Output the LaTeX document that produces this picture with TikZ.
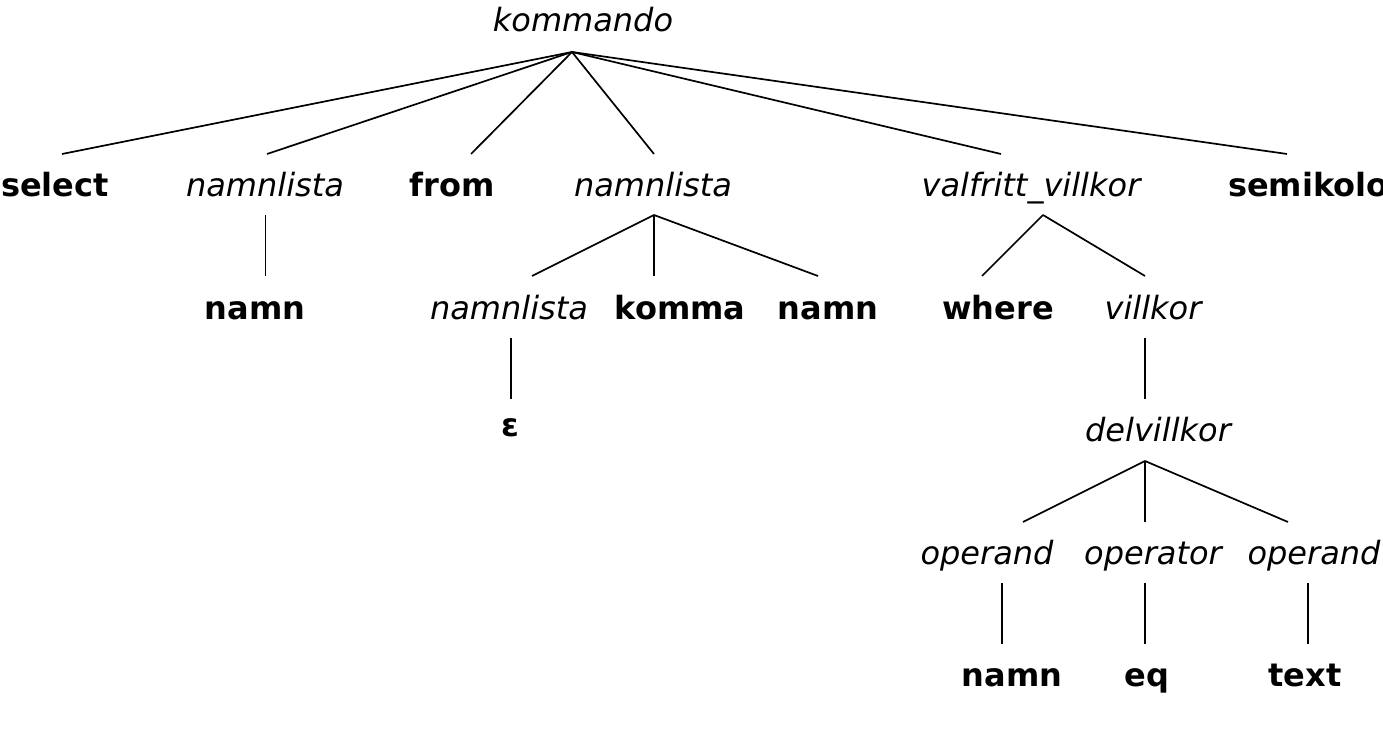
\documentclass[tikz,border=0pt]{standalone}
\usepackage{fontspec}
\setmainfont{DejaVu Sans}
\begin{document}
\begin{tikzpicture}[x=1pt,y=-1pt,
  nt/.style={anchor=base,inner sep=0pt,font=\fontsize{32}{38}\selectfont\itshape},
  tm/.style={anchor=base,inner sep=0pt,font=\fontsize{32}{38}\selectfont\bfseries},
  edge/.style={line width=1.7pt}]
\useasboundingbox (0,0) rectangle (1383,735);
% nodes
\node[nt] (kommando) at (583,32) {kommando};
\node[tm] (select) at (55,197) {select};
\node[nt] (nl1) at (265,197) {namnlista};
\node[tm] (from) at (452,197) {from};
\node[nt] (nl2) at (653,197) {namnlista};
\node[nt] (vv) at (1031,197) {valfritt\_villkor};
\node[tm,anchor=base west] (semi) at (1228,197) {semikolon};
\node[tm] (namn1) at (255,319) {namn};
\node[nt] (nl3) at (509,319) {namnlista};
\node[tm] (komma) at (680,319) {komma};
\node[tm] (namn2) at (828,319) {namn};
\node[tm] (where) at (998,319) {where};
\node[nt] (villkor) at (1153,319) {villkor};
\node[tm] (eps) at (510,436) {ε};
\node[nt] (delv) at (1158,441) {delvillkor};
\node[nt] (op1) at (987,564) {operand};
\node[nt] (opr) at (1153,564) {operator};
\node[nt] (op2) at (1314,564) {operand};
\node[tm] (namn3) at (1012,686) {namn};
\node[tm] (eq) at (1147,686) {eq};
\node[tm] (text) at (1305,686) {text};
% connector end points
\coordinate (kommando-b) at (572,52);
\coordinate (select-t) at (62,154);
\coordinate (nl1-t) at (267,154);
\coordinate (from-t) at (471,154);
\coordinate (nl2-t) at (654,154);
\coordinate (vv-t) at (1001,154);
\coordinate (semi-t) at (1287,154);
\coordinate (nl1-b) at (265.5,215);
\coordinate (namn1-t) at (265.5,276);
\coordinate (nl2-b) at (654,215);
\coordinate (nl3-t) at (532,276);
\coordinate (komma-t) at (654,276);
\coordinate (namn2-t) at (818,276);
\coordinate (vv-b) at (1043,215);
\coordinate (where-t) at (982,276);
\coordinate (villkor-t) at (1145,276);
\coordinate (nl3-b) at (511,338);
\coordinate (eps-t) at (511,399);
\coordinate (villkor-b) at (1145,338);
\coordinate (delv-t) at (1145,399);
\coordinate (delv-b) at (1145,461);
\coordinate (op1-t) at (1023,522);
\coordinate (opr-t) at (1145,522);
\coordinate (op2-t) at (1288,522);
\coordinate (op1-b) at (1002,583);
\coordinate (namn3-t) at (1002,644);
\coordinate (opr-b) at (1145,583);
\coordinate (eq-t) at (1145,644);
\coordinate (op2-b) at (1308,583);
\coordinate (text-t) at (1308,644);
% connectors
\foreach \c in {select-t,nl1-t,from-t,nl2-t,vv-t,semi-t}
  \draw[edge] (kommando-b) -- (\c);
\draw[edge] (nl1-b) -- (namn1-t);
\foreach \c in {nl3-t,komma-t,namn2-t}
  \draw[edge] (nl2-b) -- (\c);
\foreach \c in {where-t,villkor-t}
  \draw[edge] (vv-b) -- (\c);
\draw[edge] (nl3-b) -- (eps-t);
\draw[edge] (villkor-b) -- (delv-t);
\foreach \c in {op1-t,opr-t,op2-t}
  \draw[edge] (delv-b) -- (\c);
\draw[edge] (op1-b) -- (namn3-t);
\draw[edge] (opr-b) -- (eq-t);
\draw[edge] (op2-b) -- (text-t);
\end{tikzpicture}
\end{document}
